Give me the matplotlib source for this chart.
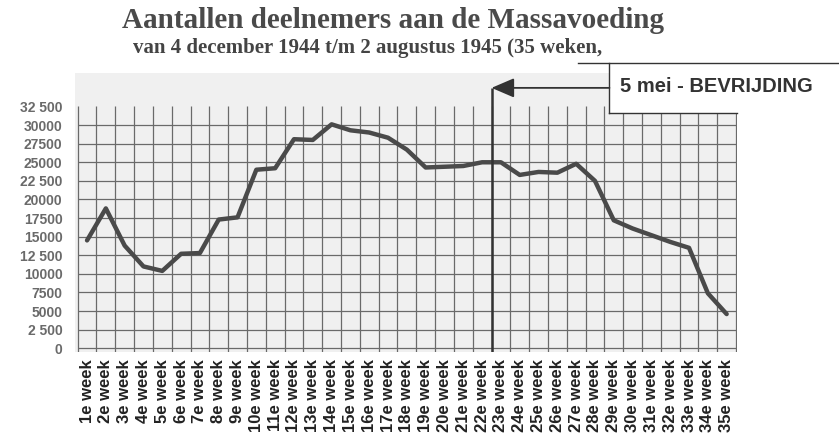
import numpy as np
import matplotlib
matplotlib.use("Agg")
import matplotlib.pyplot as plt
from matplotlib.patches import Rectangle

# data
weeks = np.arange(1, 36)
week_labels = [f"{w}e week" for w in weeks]
deelnemers = [14500, 18800, 13800, 11000, 10400, 12700, 12800, 17300, 17600, 24000,
              24200, 28100, 28000, 30100, 29300, 29000, 28300, 26700, 24300, 24400,
              24500, 25000, 25000, 23300, 23700, 23600, 24800, 22500, 17200, 16100,
              15200, 14300, 13500, 7400, 4600]
ytick_values = [0, 2500, 5000, 7500, 10000, 12500, 15000, 17500, 20000, 22500,
                25000, 27500, 30000, 32500]
ytick_labels = ["0", "2 500", "5000", "7500", "10000", "12 500", "15000", "17500",
                "20000", "22 500", "25000", "27500", "30000", "32 500"]
bevrijding_week = 22.5

W, H = 839, 436
fig = plt.figure(figsize=(W / 100, H / 100), dpi=100)
ax = fig.add_axes([75 / W, (H - 352) / H, 662 / W, 279 / H])
ax.set_facecolor("#f0f0f0")
ax.set_xlim(0.36, 35.55)
ax.set_ylim(-500, 37000)
for s in ax.spines.values():
    s.set_visible(False)

# grid paper
grid_c = "#6a6a6a"
ax.vlines(np.arange(0.5, 36.0, 1.0), -500, 32600, color=grid_c, lw=0.9, zorder=1)
ax.hlines(ytick_values[:-1], 0.5, 35.5, color=grid_c, lw=0.9, zorder=1)

# series
ax.plot(weeks, deelnemers, color="#4a4a4a", lw=3.2, solid_joinstyle="round",
        solid_capstyle="round", zorder=3)

# ticks
ax.set_yticks(ytick_values)
ax.set_yticklabels(ytick_labels, fontfamily="Liberation Sans", fontweight="bold",
                   fontsize=10, color="#6a6a6a")
ax.tick_params(axis="y", length=0, pad=9)
ax.set_xticks(weeks)
ax.set_xticklabels(week_labels, rotation=90, fontfamily="Liberation Sans",
                   fontweight="bold", fontsize=12, color="#222222")
ax.tick_params(axis="x", length=0, pad=5)

# liberation marker
arrow_y = 35000
ax.vlines(bevrijding_week, -500, arrow_y, color="#333333", lw=1.8, zorder=4)
box_left, box_top, box_bot = 28.77, 38400, 31650
ax.add_patch(Rectangle((box_left, box_bot), 40, box_top - box_bot, facecolor="white",
                       edgecolor="none", zorder=5, clip_on=False))
ax.plot([box_left, box_left], [box_bot, box_top], color="#333333", lw=1.0,
        zorder=6, clip_on=False)
ax.plot([box_left, 35.55], [box_bot, box_bot], color="#333333", lw=1.0,
        zorder=6, clip_on=False)
ax.plot([27.1, 45], [box_top, box_top], color="#333333", lw=1.0,
        zorder=6, clip_on=False)
ax.annotate("", xy=(bevrijding_week, arrow_y), xytext=(box_left, arrow_y),
            arrowprops=dict(arrowstyle="-|>,head_length=1.4,head_width=0.6",
                            mutation_scale=10, color="#333333", lw=1.3,
                            shrinkA=0, shrinkB=0),
            zorder=6, annotation_clip=False)
fig.text(620 / W, 1 - 87 / H, "5 mei - BEVRIJDING", fontfamily="Liberation Sans",
         fontweight="bold", fontsize=14.5, color="#333333", va="center", ha="left",
         zorder=7)

# titles
fig.text(393 / W, 1 - 21 / H, "Aantallen deelnemers aan de Massavoeding",
         fontfamily="Liberation Serif", fontweight="bold", fontsize=21,
         color="#4a4a4a", ha="center", va="center")
fig.text(368 / W, 1 - 48 / H, "van 4 december 1944 t/m 2 augustus 1945 (35 weken,",
         fontfamily="Liberation Serif", fontweight="bold", fontsize=15,
         color="#444444", ha="center", va="center")

fig.savefig("out.png", dpi=100, facecolor="white")
